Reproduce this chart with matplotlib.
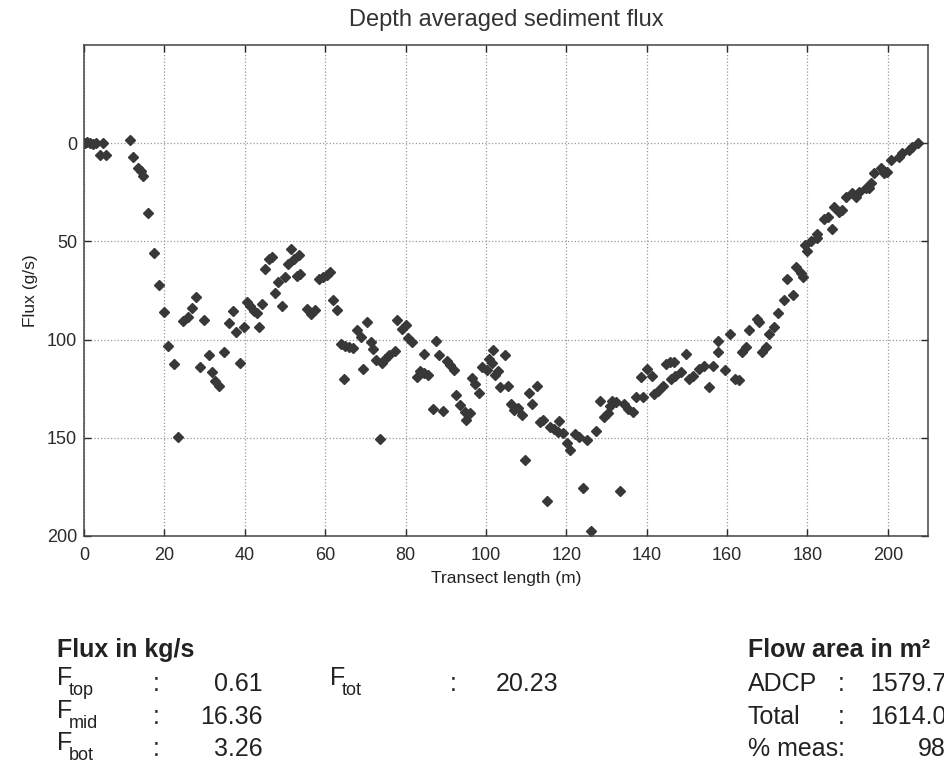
import numpy as np
import matplotlib
matplotlib.use("Agg")
import matplotlib.pyplot as plt

plt.rcParams['font.family'] = ['Liberation Sans', 'DejaVu Sans']

# transect position (m) and depth averaged flux (g/s)
dist = [0.2, 0.8, 1.5, 2.2, 3.0, 4.0, 4.8, 5.5, 11.4, 12.2, 13.5, 14.1, 14.7, 16.0, 17.5,
        18.7, 20.0, 21.0, 22.3, 23.5, 24.6, 25.9, 26.9, 27.9, 28.9, 29.8, 31.0, 31.8, 32.7,
        33.6, 34.8, 36.0, 37.0, 37.9, 38.7, 39.8, 40.6, 41.3, 42.2, 43.0, 43.6, 44.3, 45.1,
        46.0, 46.8, 47.4, 48.3, 49.2, 50.0, 50.7, 51.5, 52.3, 53.1, 53.5, 53.8,
        55.6, 56.6, 57.6, 58.5, 59.5, 60.5, 61.3, 62.0, 63.0, 64.0, 64.7, 65.0, 66.0, 67.0,
        68.0, 68.8, 69.4, 70.3, 71.3, 72.0, 72.7, 73.6, 74.2, 75.0, 76.0, 77.5, 77.8, 79.0,
        80.0, 80.5, 81.6, 82.9, 83.7, 84.5, 84.6, 85.5, 86.8, 87.7, 88.4, 89.3, 90.3, 91.0,
        92.0, 92.6, 93.6, 94.9, 95.0, 96.1, 96.5, 97.2, 98.2, 99.0, 100.2, 100.7, 101.6,
        101.7, 102.3,
        103.0, 103.5, 104.75, 105.6, 106.25, 107.0, 108.0, 108.9, 109.75, 110.8, 111.4,
        112.7, 113.5, 114.3, 115.2, 116.0, 117.0, 118.0, 118.25, 119.3, 120.2, 121.0,
        122.25, 123.1, 124.1, 125.2, 126.25, 127.5, 128.5, 129.3, 130.3, 131.0, 131.4,
        132.3, 133.3, 134.3, 135.3, 136.5, 137.25, 138.5, 139.2, 140.2, 141.25, 141.8,
        142.7, 144.0, 144.75, 145.8, 146.0, 146.8, 147.0, 148.5, 149.75, 150.6, 151.5,
        153.0, 154.3, 155.4, 156.4, 157.7, 157.7,
        159.6, 160.8, 162.1, 162.9, 163.7, 164.6, 165.4, 167.5, 167.9, 168.7, 169.6, 170.4,
        171.6, 172.7, 174.1, 175.0, 176.5, 177.2, 178.3, 179.0, 179.5, 180.0, 181.0, 182.3,
        182.4, 184.1, 185.0, 186.0, 186.6, 187.8, 188.7, 189.5, 191.2, 192.0, 192.8, 194.5,
        195.3, 195.7, 196.6, 198.2, 199.0, 199.9, 200.7, 202.8, 203.6, 205.3, 206.1, 207.4]

flux = [0.0, -0.5, 0.0, 0.3, 0.0, 6.0, 0.0, 6.0, -1.5, 7.0, 12.5, 14.0, 16.5, 35.7, 56.0,
        72.0, 86.0, 103.5, 112.5, 149.7, 90.3, 88.6, 84.0, 78.4, 114.0, 89.8, 107.6, 116.3, 121.0,
        123.4, 106.5, 91.7, 85.2, 96.3, 111.9, 93.7, 81.0, 82.7, 85.2, 86.6, 93.4, 81.8, 64.3,
        59.0, 58.0, 76.2, 70.8, 82.7, 68.0, 61.5, 53.8, 59.0, 67.4, 57.0, 66.5,
        84.5, 87.0, 85.0, 69.0, 68.0, 67.0, 65.5, 79.8, 84.9, 102.0, 120.0, 103.5, 104.0, 104.5,
        95.0, 98.5, 115.0, 91.0, 101.0, 105.0, 110.4, 150.7, 112.0, 110.0, 108.0, 106.0, 89.8, 94.5,
        92.5, 99.0, 101.0, 118.9, 116.0, 107.3, 117.0, 118.0, 135.5, 100.5, 107.8, 136.6, 111.0, 113.0,
        115.5, 128.0, 133.3, 136.7, 141.0, 137.6, 119.7, 122.4, 127.0, 113.8, 115.6, 110.0, 112.0,
        105.3, 118.0,
        115.8, 124.0, 107.6, 123.4, 132.7, 136.0, 134.6, 138.5, 161.5, 127.3, 133.0,
        123.4, 142.0, 141.0, 182.0, 144.6, 145.6, 147.3, 141.2, 147.6, 152.7, 156.1,
        148.0, 149.6, 175.4, 151.0, 197.6, 146.3, 131.4, 139.5, 137.2, 134.0, 131.4,
        132.0, 177.3, 132.7, 135.2, 137.0, 129.0, 119.2, 129.3, 115.0, 118.3, 127.5,
        126.0, 123.4, 112.4, 111.5, 120.0, 111.5, 118.3, 116.6, 107.3, 120.0, 118.3,
        115.0, 113.2, 124.2, 113.2, 106.4, 100.5,
        115.6, 97.0, 119.9, 120.7, 106.3, 103.7, 95.2, 89.3, 91.0, 106.3, 103.7, 97.0,
        93.5, 86.4, 80.0, 68.9, 77.4, 63.0, 66.3, 68.0, 51.9, 55.0, 50.0, 48.3,
        46.0, 38.8, 37.8, 43.9, 32.3, 34.9, 34.0, 27.2, 25.5, 27.2, 24.7, 23.0,
        23.0, 20.4, 15.3, 12.8, 15.3, 14.5, 8.5, 6.8, 5.1, 3.4, 1.7, 0.0]

x_ticks = list(range(0, 201, 20))
y_ticks = [0, 50, 100, 150, 200]

# summary numbers printed under the plot
flux_names = ['top', 'mid', 'bot']
flux_vals = ['0.61', '16.36', '3.26']
flux_total = '20.23'
area_names = ['ADCP', 'Total']
area_vals = ['1579.7', '1614.0']
meas_val = '98'

W, H = 945, 764
fig = plt.figure(figsize=(W / 100, H / 100), dpi=100)
ax = fig.add_axes([84 / W, 1 - 536 / H, (928 - 84) / W, (536 - 45) / H])

ax.plot(dist, flux, linestyle='none', marker='D', markersize=5.0,
        color='#383838', markeredgecolor='#383838')

ax.set_xlim(0, 210)
ax.set_ylim(200, -50)
ax.set_xticks(x_ticks)
ax.set_yticks(y_ticks)
ax.grid(True, linestyle=':', color='#999999', linewidth=0.9)
ax.tick_params(direction='in', top=True, right=True, length=5, width=1,
               labelsize=13, colors='#2a2a2a')
ax.tick_params(axis='x', pad=8)
ax.tick_params(axis='y', pad=5)
for s in ax.spines.values():
    s.set_color('#444444')
    s.set_linewidth(1.1)

ax.set_title('Depth averaged sediment flux', fontsize=17, pad=14, color='#333333')
ax.set_xlabel('Transect length (m)', fontsize=12.5, labelpad=5, color='#222222')
ax.set_ylabel('Flux (g/s)', fontsize=12.5, labelpad=6, color='#222222')


def put(x, y, s, size=18, **kw):
    fig.text(x / W, 1 - y / H, s, fontsize=size, va='baseline', color='#222222', **kw)


rows = [691, 724, 756]

put(57, 657, 'Flux in kg/s', weight='bold')
for name, val, yb in zip(flux_names, flux_vals, rows):
    put(57, yb - 6, 'F')
    put(69, yb + 4, name, size=13)
    put(153, yb, ':')
    put(263, yb, val, ha='right')

put(330, rows[0] - 6, 'F')
put(342, rows[0] + 4, 'tot', size=13)
put(450, rows[0], ':')
put(558, rows[0], flux_total, ha='right')

put(748, 657, 'Flow area in m²', weight='bold')
for name, val, yb in zip(area_names, area_vals, rows[:2]):
    put(748, yb, name)
    put(838, yb, ':')
    put(870, yb, val)
put(748, rows[2], '% meas:')
put(918, rows[2], meas_val)

fig.savefig('out.png', dpi=100, facecolor='white')
